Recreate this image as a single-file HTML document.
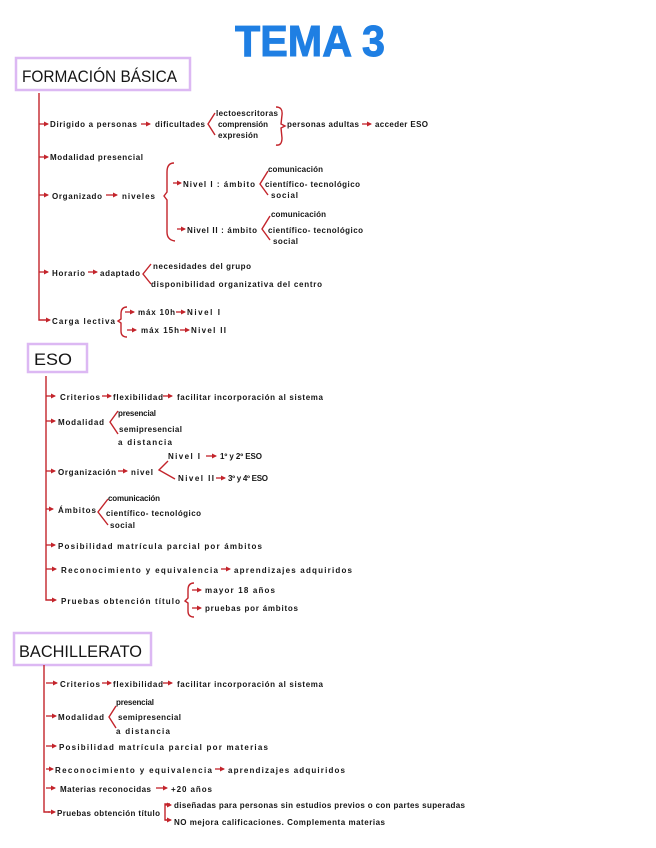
<!DOCTYPE html>
<html><head><meta charset="utf-8"><style>
html,body{margin:0;padding:0;background:#fff;}
svg{display:block;}
text{font-family:"Liberation Sans",sans-serif;font-size:8px;font-weight:bold;fill:#151515;}
.a{stroke:#c3242b;stroke-width:1.3;fill:none;marker-end:url(#m);}
.r{stroke:#c3242b;stroke-width:1.4;fill:none;}
.bx{fill:#fff;stroke:#dcb8f3;stroke-width:2.5;}
.h{font-size:17px;font-weight:normal;}
</style></head><body>
<svg width="656" height="848" viewBox="0 0 656 848" xmlns="http://www.w3.org/2000/svg">
<defs><marker id="m" markerWidth="5" markerHeight="5" refX="4" refY="2.5" orient="auto" markerUnits="userSpaceOnUse"><path d="M0,0 L5,2.5 L0,5z" fill="#c3242b"/></marker></defs>

<text x="235" y="56" style="font-size:44px;fill:#1f7fe3;font-weight:bold;stroke:#1f7fe3;stroke-width:1" textLength="150" lengthAdjust="spacingAndGlyphs">TEMA 3</text>

<!-- Formacion basica -->
<rect class="bx" x="16" y="58" width="174" height="32"/>
<text class="h" x="22" y="82" textLength="155" lengthAdjust="spacingAndGlyphs">FORMACIÓN BÁSICA</text>
<path class="r" d="M39 93 V320 H46"/>
<path class="a" d="M39 124 H48"/><path class="a" d="M39 157 H48"/><path class="a" d="M39 195 H48"/><path class="a" d="M39 272 H48"/><path class="a" d="M46 320 H50"/>
<text x="50" y="127" textLength="87">Dirigido a personas</text>
<path class="a" d="M141 124 H150"/>
<text x="155" y="127" textLength="50">dificultades</text>
<path class="r" d="M215 113 L208 124 L215 135"/>
<text x="216" y="116" textLength="62">lectoescritoras</text>
<text x="218" y="127" textLength="50">comprensión</text>
<text x="218" y="138" textLength="40">expresión</text>
<path class="r" d="M276 107 Q283 107 282 115 L281 124 L285 126 L281 128 L282 138 Q282 146 276 145"/>
<text x="287" y="127" textLength="72">personas adultas</text>
<path class="a" d="M362 124 H371"/>
<text x="375" y="127" textLength="53">acceder ESO</text>
<text x="50" y="160" textLength="93">Modalidad presencial</text>
<text x="52" y="199" textLength="50">Organizado</text>
<path class="a" d="M106 195 H117"/>
<text x="122" y="199" textLength="33">niveles</text>
<path class="r" d="M174 163 Q167 163 167 172 L167 192 L164 196 L167 200 L167 232 Q167 240 175 241"/>
<path class="a" d="M173 183 H181"/><text x="183" y="187" textLength="72">Nivel I : ámbito</text>
<path class="r" d="M268 171 L260 184 L268 195"/>
<text x="268" y="172" textLength="55">comunicación</text>
<text x="265" y="187" textLength="95">científico- tecnológico</text>
<text x="271" y="198" textLength="27">social</text>
<path class="a" d="M177 229 H185"/><text x="187" y="233" textLength="70">Nivel II : ámbito</text>
<path class="r" d="M270 216 L262 229 L270 240"/>
<text x="271" y="217" textLength="55">comunicación</text>
<text x="268" y="233" textLength="95">científico- tecnológico</text>
<text x="273" y="244" textLength="25">social</text>
<text x="52" y="276" textLength="33">Horario</text>
<path class="a" d="M88 272 H97"/>
<text x="100" y="276" textLength="40">adaptado</text>
<path class="r" d="M151 264 L143 274 L151 284"/>
<text x="153" y="269" textLength="98">necesidades del grupo</text>
<text x="151" y="287" textLength="171">disponibilidad organizativa del centro</text>
<text x="52" y="324" textLength="63">Carga lectiva</text>
<path class="r" d="M127 307 Q121 307 121 314 L121 319 L118 321 L121 323 L121 331 Q121 337 127 337"/>
<path class="a" d="M125 312 H134"/><text x="138" y="315" textLength="37">máx 10h</text>
<path class="a" d="M176 312 H185"/><text x="187" y="315" textLength="33">Nivel I</text>
<path class="a" d="M127 330 H136"/><text x="141" y="333" textLength="38">máx 15h</text>
<path class="a" d="M180 330 H189"/><text x="191" y="333" textLength="35">Nivel II</text>

<!-- ESO -->
<rect class="bx" x="28" y="344" width="59" height="28"/>
<text class="h" x="34" y="365" textLength="38" lengthAdjust="spacingAndGlyphs">ESO</text>
<path class="r" d="M46 376 V600 H52"/>
<path class="a" d="M46 396 H55"/><path class="a" d="M46 421 H55"/><path class="a" d="M46 471 H55"/><path class="a" d="M46 509 H53"/><path class="a" d="M46 545 H55"/><path class="a" d="M46 569 H56"/><path class="a" d="M50 600 H56"/>
<text x="60" y="400" textLength="40">Criterios</text>
<path class="a" d="M102 396 H111"/>
<text x="113" y="400" textLength="50">flexibilidad</text>
<path class="a" d="M163 396 H172"/>
<text x="177" y="400" textLength="146">facilitar incorporación al sistema</text>
<text x="58" y="425" textLength="46">Modalidad</text>
<path class="r" d="M118 411 L110 422 L118 434"/>
<text x="118" y="416" textLength="38">presencial</text>
<text x="119" y="432" textLength="63">semipresencial</text>
<text x="118" y="445" textLength="54">a distancia</text>
<text x="58" y="475" textLength="58">Organización</text>
<path class="a" d="M118 471 H127"/>
<text x="131" y="475" textLength="22">nivel</text>
<path class="r" d="M168 461 L159 470 L175 479"/>
<text x="168" y="459" textLength="32">Nivel I</text>
<path class="a" d="M206 456 H216"/><text x="220" y="459" textLength="42">1º y 2º ESO</text>
<text x="178" y="481" textLength="36">Nivel II</text>
<path class="a" d="M216 478 H225"/><text x="228" y="481" textLength="40">3º y 4º ESO</text>
<text x="58" y="513" textLength="38">Ámbitos</text>
<path class="r" d="M108 499 L98 512 L108 525"/>
<text x="108" y="501" textLength="52">comunicación</text>
<text x="106" y="516" textLength="95">científico- tecnológico</text>
<text x="110" y="528" textLength="25">social</text>
<text x="58" y="549" textLength="204">Posibilidad matrícula parcial por ámbitos</text>
<text x="61" y="573" textLength="157">Reconocimiento y equivalencia</text>
<path class="a" d="M221 569 H230"/>
<text x="234" y="573" textLength="118">aprendizajes adquiridos</text>
<text x="61" y="604" textLength="119">Pruebas obtención título</text>
<path class="r" d="M194 583 Q188 583 188 590 L188 598 L185 601 L188 603 L188 611 Q188 617 194 617"/>
<path class="a" d="M192 590 H201"/><text x="205" y="593" textLength="70">mayor 18 años</text>
<path class="a" d="M192 608 H201"/><text x="205" y="611" textLength="93">pruebas por ámbitos</text>

<!-- Bachillerato -->
<rect class="bx" x="14" y="633" width="137" height="32"/>
<text class="h" x="19" y="657" textLength="123" lengthAdjust="spacingAndGlyphs">BACHILLERATO</text>
<path class="r" d="M44 665 V812 H50"/>
<path class="a" d="M46 683 H57"/><path class="a" d="M46 716 H56"/><path class="a" d="M46 746 H56"/><path class="a" d="M46 769 H53"/><path class="a" d="M46 788 H55"/><path class="a" d="M48 812 H55"/>
<text x="60" y="687" textLength="40">Criterios</text>
<path class="a" d="M102 683 H111"/>
<text x="113" y="687" textLength="50">flexibilidad</text>
<path class="a" d="M163 683 H172"/>
<text x="177" y="687" textLength="146">facilitar incorporación al sistema</text>
<text x="58" y="720" textLength="46">Modalidad</text>
<path class="r" d="M116 706 L109 717 L116 728"/>
<text x="116" y="705" textLength="38">presencial</text>
<text x="118" y="720" textLength="63">semipresencial</text>
<text x="116" y="734" textLength="54">a distancia</text>
<text x="59" y="750" textLength="209">Posibilidad matrícula parcial por materias</text>
<text x="55" y="773" textLength="157">Reconocimiento y equivalencia</text>
<path class="a" d="M215 769 H224"/>
<text x="228" y="773" textLength="117">aprendizajes adquiridos</text>
<text x="60" y="792" textLength="91">Materias reconocidas</text>
<path class="a" d="M156 788 H167"/>
<text x="171" y="792" textLength="41">+20 años</text>
<text x="57" y="816" textLength="103">Pruebas obtención título</text>
<path class="r" d="M170 804 H165 V820 H170"/>
<path class="a" d="M165 805 H171"/><text x="174" y="808" textLength="291">diseñadas para personas sin estudios previos o con partes superadas</text>
<path class="a" d="M165 820 H171"/><text x="174" y="825" textLength="211">NO mejora calificaciones. Complementa materias</text>
</svg>
</body></html>
